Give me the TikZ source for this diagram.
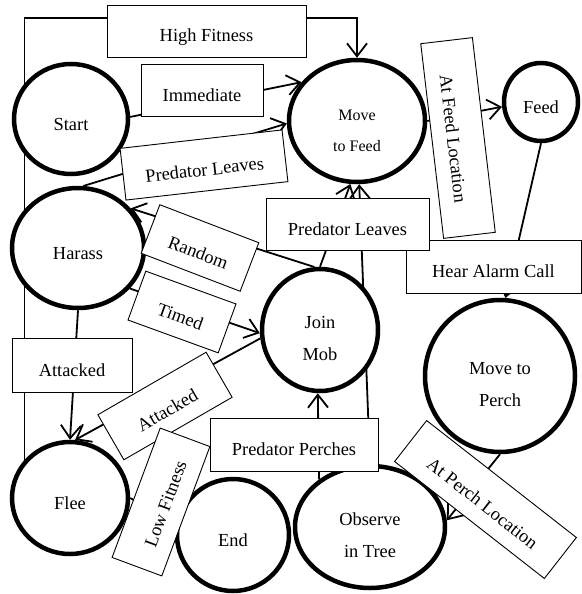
\documentclass[tikz,border=0pt]{standalone}
\usepackage{fontspec}
\setmainfont{Liberation Serif}
\usetikzlibrary{shapes.geometric,arrows.meta,backgrounds}

\tikzset{
  stare/.style={ellipse,draw,line width=4.5pt,fill=white,inner sep=0pt,
    font=\fontsize{18.4}{32}\selectfont,align=center,
    text height=22pt,text depth=0pt},
  douarand/.style={text height=60pt,text depth=0pt},
  eticheta/.style={rectangle,draw,line width=0.9pt,fill=white,inner sep=0pt,
    minimum height=52pt,font=\fontsize{18.4}{22}\selectfont,
    text height=22pt,text depth=0pt},
  trec/.style={line width=1.8pt,-{Straight Barb[length=13pt,width=20pt]}}
}

\begin{document}
\begin{tikzpicture}[x=1pt,y=-1pt]
  \useasboundingbox (0,0) rectangle (581,594);

  % stări
  \node[stare,minimum width=114pt,minimum height=110pt] (start) at (71,119) {Start};
  \node[stare,douarand,minimum width=136pt,minimum height=122pt,
    font=\fontsize{16}{31}\selectfont]
    (moveFeed) at (357,121) {Move\\to Feed};
  \node[stare,minimum width=74pt,minimum height=78pt] (feed) at (541,102) {Feed};
  \node[stare,minimum width=132pt,minimum height=120pt] (harass) at (78,248) {Harass};
  \node[stare,douarand,minimum width=116pt,minimum height=122pt] (joinMob) at (320,330) {Join\\Mob};
  \node[stare,douarand,minimum width=150pt,minimum height=152pt] (movePerch) at (500,376) {Move to\\Perch};
  \node[stare,minimum width=116pt,minimum height=112pt] (flee) at (70,498) {Flee};
  \node[stare,minimum width=112pt,minimum height=112pt] (theEnd) at (233,535) {End};
  \node[stare,douarand,minimum width=150pt,minimum height=122pt] (observe) at (370,527) {Observe\\in Tree};

  % etichete
  \node[eticheta,minimum width=199pt] (hiFit) at (206.5,31) {High Fitness};
  \node[eticheta,minimum width=122pt] (immed) at (202,90) {Immediate};
  \node[eticheta,minimum width=163pt,rotate=6.5] (predLeavesA) at (204,165) {Predator Leaves};
  \node[eticheta,minimum width=106pt,rotate=-21] (randomL) at (200,248) {Random};
  \node[eticheta,minimum width=96pt,rotate=-20] (timedL) at (182,312) {Timed};
  \node[eticheta,minimum width=120pt,minimum height=54pt] (attackedA) at (72,365) {Attacked};
  \node[eticheta,minimum width=125pt,rotate=30] (attackedB) at (165,406) {Attacked};
  \node[eticheta,minimum width=138pt,minimum height=53pt,rotate=69.6] (lowFit) at (161,502) {Low Fitness};
  \node[eticheta,minimum width=175pt,minimum height=53pt] (alarm) at (493.5,266.5) {Hear Alarm Call};
  \node[eticheta,minimum width=163pt] (predLeavesB) at (347.5,224) {Predator Leaves};
  \node[eticheta,minimum width=168pt,minimum height=53pt] (predPerch) at (294,444.5) {Predator Perches};
  \node[eticheta,minimum width=196pt,rotate=-83.3] (atFeed) at (458,138) {At Feed Location};
  \node[eticheta,minimum width=190pt,rotate=-38] (atPerch) at (485.5,499.5) {At Perch Location};

  % tranziții
  \begin{scope}[on background layer]
    \draw[trec] (flee.140) |- ([yshift=13pt]hiFit.center) -| (moveFeed.north);
    \draw[trec] (start.2) -- (moveFeed.145);
    \draw[trec] (harass.85) -- (moveFeed.182);
    \draw[trec] (joinMob.95) -- (harass.37);
    \draw[trec] (harass.-38) -- (joinMob.183);
    \draw[trec] (joinMob.188) -- (flee.85);
    \draw[trec] (harass.south) -- (flee.north);
    \draw[trec] (joinMob.north) -- (moveFeed.-96);
    \draw[trec] (observe.north) -- (moveFeed.-88);
    \draw[trec] (observe.137) -- (joinMob.-92);
    \draw[trec] (moveFeed.east) -- (feed.187);
    \draw[trec] (feed.south) -- (movePerch.86);
    \draw[trec] (movePerch.south) -- (observe.5);
    \draw[trec] (flee.east) -- (theEnd.170);
  \end{scope}
\end{tikzpicture}
\end{document}
